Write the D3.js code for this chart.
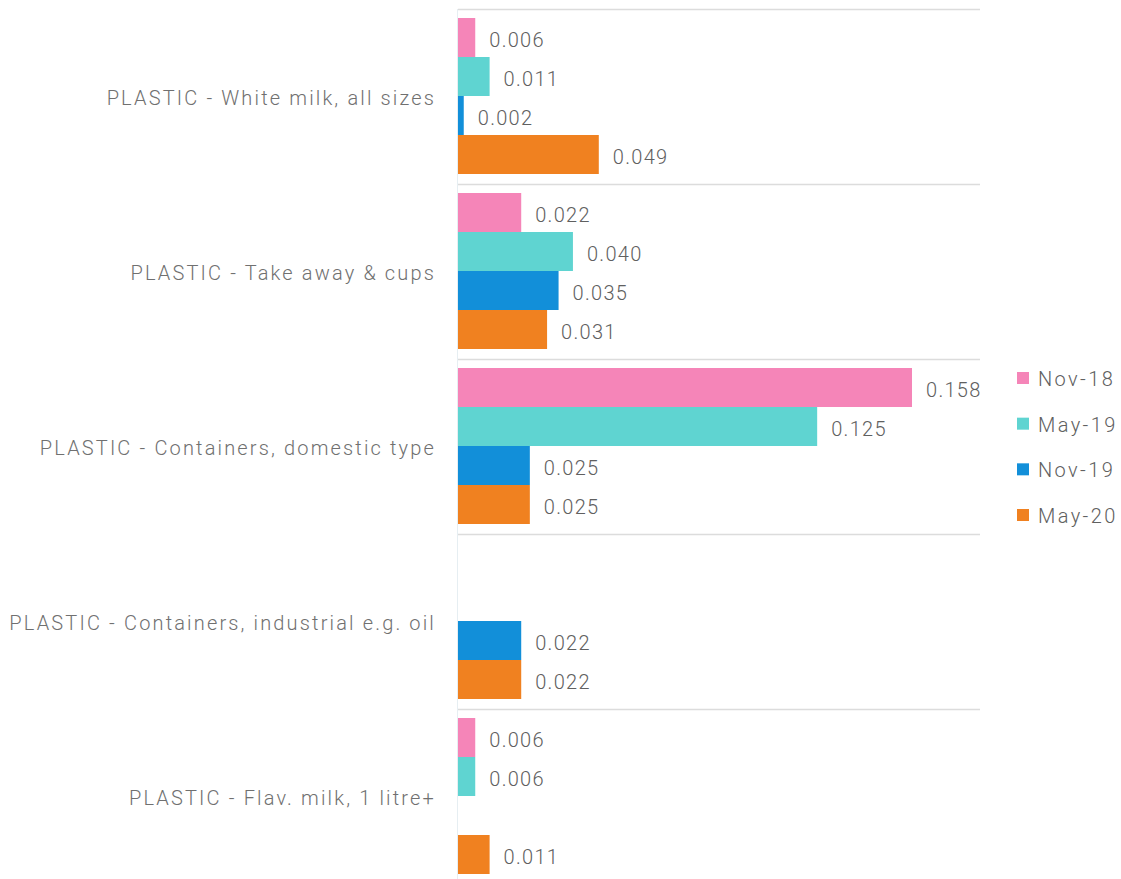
<!DOCTYPE html>
<html><head><meta charset="utf-8">
<script src="https://cdn.jsdelivr.net/npm/d3@7"></script>
<style>body{margin:0;background:#fff}svg{display:block}</style>
</head><body>
<script>
const categories = ["PLASTIC - White milk, all sizes","PLASTIC - Take away & cups","PLASTIC - Containers, domestic type","PLASTIC - Containers, industrial e.g. oil","PLASTIC - Flav. milk, 1 litre+"];
const seriesNames = ["Nov-18","May-19","Nov-19","May-20"];
const nov18 = [0.006, 0.022, 0.158, null, 0.006];
const may19 = [0.011, 0.040, 0.125, null, 0.006];
const nov19 = [0.002, 0.035, 0.025, 0.022, null];
const may20 = [0.049, 0.031, 0.025, 0.022, 0.011];
const colors = ["#F585B8","#5FD4D1","#128FD9","#F08120"];
const series = [nov18, may19, nov19, may20];

const W = 1121, H = 879;
const svg = d3.select("body").append("svg").attr("width", W).attr("height", H);
const x0 = 458;
const x = d3.scaleLinear().domain([0, 0.158]).range([x0, 912]);
const y = d3.scaleBand().domain(categories).range([9, 9 + 175*5]);
const yi = d3.scaleBand().domain(seriesNames).range([9, 165]);

// separators
svg.append("g").selectAll("line").data(categories).join("line")
  .attr("x1", x0).attr("x2", 980)
  .attr("y1", d => y(d) + 0.5).attr("y2", d => y(d) + 0.5)
  .attr("stroke", "#dcdcdc").attr("stroke-width", 1.5);
svg.append("line").attr("x1", x0 - 0.5).attr("x2", x0 - 0.5).attr("y1", 9).attr("y2", H)
  .attr("stroke", "#e6eef2").attr("stroke-width", 1);

// category labels
svg.append("g").selectAll("text").data(categories).join("text")
  .attr("x", 436).attr("y", d => y(d) + y.bandwidth()/2 + 1)
  .attr("text-anchor", "end").attr("dominant-baseline", "central")
  .attr("font-family", "Roboto").attr("font-size", 20).attr("font-weight", 300)
  .attr("letter-spacing", 2.15)
  .attr("fill", "#707070").text(d => d);

// bars
const g = svg.append("g");
series.forEach((vals, si) => {
  const data = categories.map((c, i) => ({c, v: vals[i]})).filter(d => d.v != null);
  g.append("g").selectAll("rect").data(data).join("rect")
    .attr("x", x0).attr("y", d => y(d.c) + yi(seriesNames[si]))
    .attr("width", d => x(d.v) - x0).attr("height", yi.bandwidth())
    .attr("fill", colors[si]);
  g.append("g").selectAll("text").data(data).join("text")
    .attr("x", d => x(d.v) + 14).attr("y", d => y(d.c) + yi(seriesNames[si]) + yi.bandwidth()/2 + 2.5)
    .attr("dominant-baseline", "central")
    .attr("font-family", "Roboto").attr("font-size", 20).attr("font-weight", 300)
    .attr("letter-spacing", 1.3)
    .attr("fill", "#606060").text(d => d.v.toFixed(3));
});

// legend
const ly = d3.scalePoint().domain(seriesNames).range([378, 515]);
const lg = svg.append("g").selectAll("g").data(seriesNames).join("g")
  .attr("transform", d => `translate(1017,${ly(d)})`);
lg.append("rect").attr("x", 0).attr("y", -6).attr("width", 12).attr("height", 12)
  .attr("fill", (d, i) => colors[i]);
lg.append("text").attr("x", 21).attr("y", 1).attr("dominant-baseline", "central")
  .attr("font-family", "Roboto").attr("font-size", 20).attr("font-weight", 300)
  .attr("letter-spacing", 2.4)
  .attr("fill", "#606060").text(d => d);
</script>
</body></html>
